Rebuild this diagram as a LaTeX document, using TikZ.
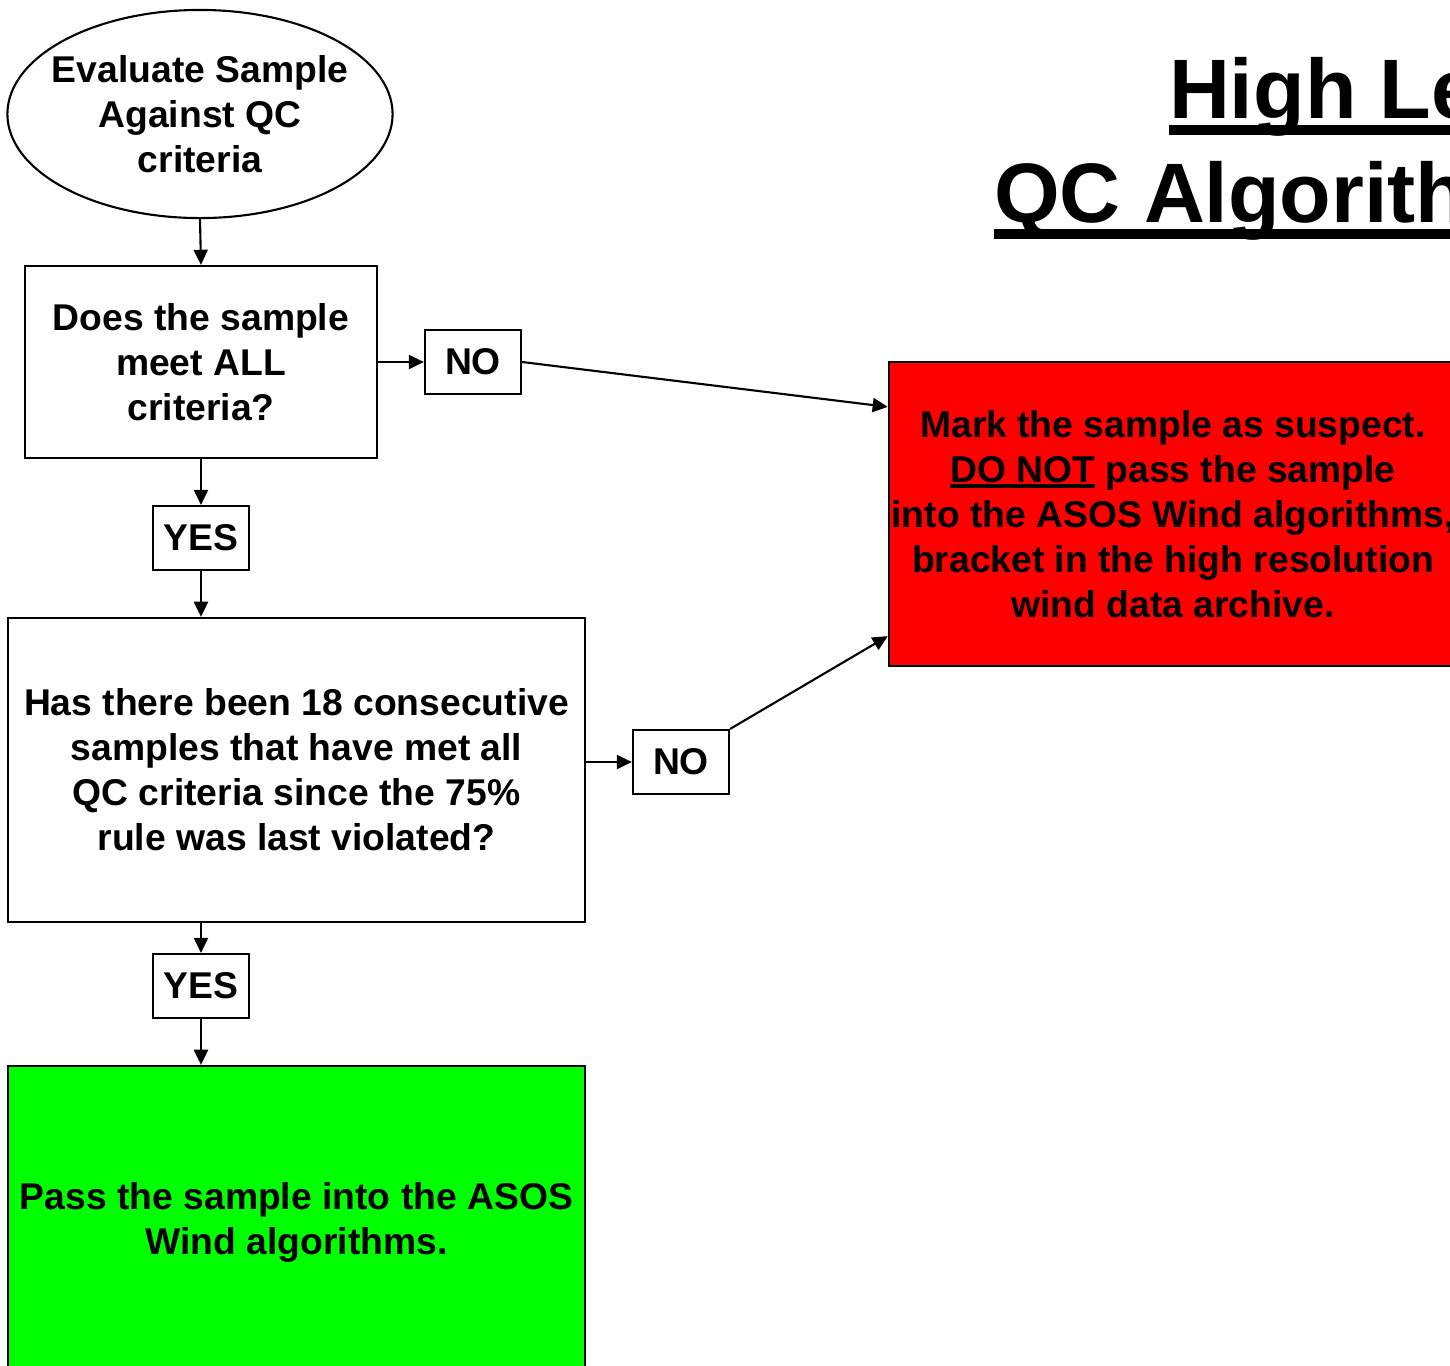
\documentclass[tikz,border=0pt]{standalone}
\usepackage{fontspec}
\setmainfont{Liberation Sans}
\usetikzlibrary{shapes.geometric,arrows.meta}
% underline: depth, thickness, text
\newcommand\ulword[3]{\setbox0\hbox{#3}\rlap{\rule[-#1]{\wd0}{#2}}\box0}
\begin{document}
\begin{tikzpicture}[x=0.01cm,y=-0.01cm,>={Triangle[length=4.3pt,width=4pt]},line width=0.6pt,
  every node/.style={font=\fontsize{10.6}{12.8}\selectfont\bfseries,align=center,inner sep=0pt},
  tag/.style={draw,minimum width=0.96cm,minimum height=0.64cm},
  title/.style={font=\fontsize{24}{29}\selectfont\bfseries,anchor=base west}]
\useasboundingbox (0,0) rectangle (1450,1366);
\clip (0,0) rectangle (1450,1366);
\node[title](title1) at (1168,118) {\ulword{4.7pt}{2.6pt}{High Level}};
\node[title](title2) at (993,222) {\ulword{4.7pt}{2.6pt}{QC Algorithm}};

\node[draw,ellipse,inner xsep=-0.15cm,minimum width=3.85cm,minimum height=2.08cm](eval) at (200,114) {Evaluate Sample\\Against QC\\criteria};
\node[draw,minimum width=3.52cm,minimum height=1.92cm](allcrit) at (201,362) {Does the sample\\meet ALL\\criteria?};
\node[tag](no1) at (473,362) {NO};
\node[tag](yes1) at (201,538) {YES};
\node[draw,minimum width=5.77cm,minimum height=3.04cm](consec) at (296.5,770) {Has there been 18 consecutive\\samples that have met all\\QC criteria since the 75\%\\rule was last violated?};
\node[tag](no2) at (681,762) {NO};
\node[tag](yes2) at (201,986) {YES};
\node[draw,fill={rgb,255:red,255;green,0;blue,0},minimum width=5.68cm,minimum height=3.04cm](suspect) at (1173,514) {Mark the sample as suspect.\\\ulword{1.5pt}{0.9pt}{DO NOT}\ pass the sample\\into the ASOS Wind algorithms,\\bracket in the high resolution\\wind data archive.};
\node[draw,fill={rgb,255:red,0;green,255;blue,0},minimum width=5.77cm,minimum height=3.12cm](pass) at (296.5,1222) {Pass the sample into the ASOS\\Wind algorithms.};

\draw[->](eval.south)--(allcrit.north);
\draw[->](allcrit.east)--(no1.west);
\draw[->](no1.east)--([yshift=-0.46cm]suspect.north west);
\draw[->](allcrit.south)--(yes1.north);
\draw[->](yes1.south)--(yes1.south|-consec.north);
\draw[->](consec.east|-no2.west)--(no2.west);
\draw[->](no2.north east)--([yshift=0.31cm]suspect.south west);
\draw[->](yes2.north|-consec.south)--(yes2.north);
\draw[->](yes2.south)--(yes2.south|-pass.north);

\end{tikzpicture}
\end{document}
